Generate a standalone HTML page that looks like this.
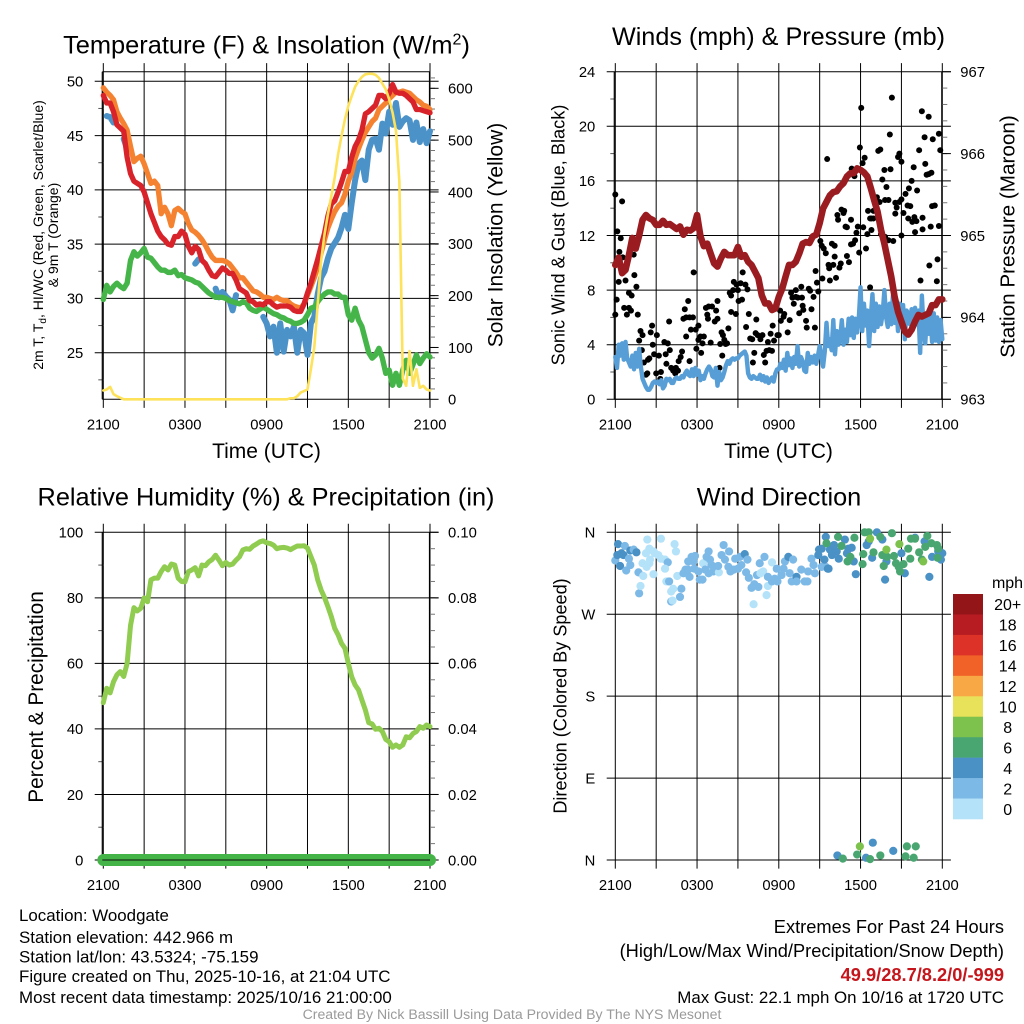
<!DOCTYPE html>
<html lang="en">
<head>
<meta charset="utf-8">
<title>Woodgate Mesonet Meteogram</title>
<style>
html,body{margin:0;padding:0;background:#fff;width:1024px;height:1024px;overflow:hidden}
svg{display:block}
text{font-family:"Liberation Sans",sans-serif;fill:#000}
.title{font-size:25.3px;text-anchor:middle}
.axt{font-size:21px;text-anchor:middle}
.foot{font-size:16.9px}
.foot-big{font-size:18.25px}
</style>
</head>
<body>
<svg id="chart" xmlns="http://www.w3.org/2000/svg" width="1024" height="1024" viewBox="0 0 1024 1024">
<rect x="0" y="0" width="1024" height="1024" fill="#fff"/>
<g id="layer"></g>

<text class="title" x="266.5" y="53.5" style="font-size:25.4px">Temperature (F) &amp; Insolation (W/m<tspan dy="-9" font-size="16">2</tspan><tspan dy="9">)</tspan></text>
<text class="title" x="778.5" y="45" style="font-size:25.2px">Winds (mph) &amp; Pressure (mb)</text>
<text class="title" x="266" y="505.5">Relative Humidity (%) &amp; Precipitation (in)</text>
<text class="title" x="779" y="505.5">Wind Direction</text>

<text class="axt" x="266.5" y="458">Time (UTC)</text>
<text class="axt" x="778.5" y="458">Time (UTC)</text>

<text font-size="14" text-anchor="middle" transform="translate(43,235) rotate(-90)">2m T, T<tspan dy="3" font-size="10">d</tspan><tspan dy="-3">, HI/WC (Red, Green, Scarlet/Blue)</tspan></text>
<text font-size="14" text-anchor="middle" transform="translate(58,235) rotate(-90)">&amp; 9m T (Orange)</text>
<text class="axt" transform="translate(502.5,235) rotate(-90)">Solar Insolation (Yellow)</text>
<text class="axt" transform="translate(564.5,235) rotate(-90)" style="font-size:18.2px">Sonic Wind &amp; Gust (Blue, Black)</text>
<text class="axt" transform="translate(1014.5,236.5) rotate(-90)" style="font-size:20.7px">Station Pressure (Maroon)</text>
<text class="axt" transform="translate(43,697) rotate(-90)" style="font-size:20.8px">Percent &amp; Precipitation</text>
<text class="axt" transform="translate(566.5,696) rotate(-90)" style="font-size:18.1px">Direction (Colored By Speed)</text>

<text class="foot" x="19" y="921">Location: Woodgate</text>
<text class="foot" x="19" y="943">Station elevation: 442.966 m</text>
<text class="foot" x="19" y="962.5">Station lat/lon: 43.5324; -75.159</text>
<text class="foot" x="19" y="982">Figure created on Thu, 2025-10-16, at 21:04 UTC</text>
<text class="foot" x="19" y="1003">Most recent data timestamp: 2025/10/16 21:00:00</text>

<text class="foot-big" x="1004" y="933" text-anchor="end">Extremes For Past 24 Hours</text>
<text class="foot-big" x="1004" y="957" text-anchor="end">(High/Low/Max Wind/Precipitation/Snow Depth)</text>
<text class="foot-big" x="1004" y="981" text-anchor="end" font-weight="bold" style="fill:#c4161c">49.9/28.7/8.2/0/-999</text>
<text class="foot" x="1004" y="1003" text-anchor="end">Max Gust: 22.1 mph On 10/16 at 1720 UTC</text>
<text x="512" y="1019" text-anchor="middle" font-size="14.1" style="fill:#9a9a9a">Created By Nick Bassill Using Data Provided By The NYS Mesonet</text>
</svg>

<script>
/* ---- shared axis data ---- */
const timeLabels = ["2100", "0300", "0900", "1500", "2100"];
const timeMajorHours = [0, 3, 6, 9, 12, 15, 18, 21, 24];

/* ---- temperature panel (deg F, evenly spaced over 24 h) ---- */
const tempTicks = [25, 30, 35, 40, 45, 50];
const tempMinorTicks = [22.5, 27.5, 32.5, 37.5, 42.5, 47.5];
const solarTicks = [0, 100, 200, 300, 400, 500, 600];
const temp2m = [48.7,48,48,47.2,46,45.7,45.4,43,41.5,40.8,40.6,40.4,39.8,38.8,37.8,37,36.2,35.7,35.4,35,34.9,35.7,35.7,36.2,35.9,34.8,34.2,34.8,34.5,33.5,33.2,32.6,32.1,32,32.4,32.8,32.6,32.3,32.3,31.7,30.9,30.7,30.5,29.8,29.7,29.4,29.5,29.4,29.7,29.7,29.4,29.2,29.3,29.3,29.3,29.2,28.9,28.8,28.8,29.5,30.5,31.4,32.5,33.6,34.8,36,37.6,38.7,39,39.8,40.7,41.7,41.7,43,44,44.6,45.5,47,47.2,47.5,47.8,48.7,48.7,48.4,48.9,49.7,49,48.9,48.9,48.7,48.4,48.1,47.4,47.4,47.3,47.2,47.1];
const temp9m = [49.4,49,48.7,48.3,47.2,46.6,46.1,45.5,44,42.6,42.9,43.1,42.4,41.5,40.6,40.8,40.4,37.8,38.4,37.8,36.7,38.1,38.3,38,37.8,36.9,36.3,36.1,35.8,35.4,34.9,34.3,33.8,33.5,33.5,33.5,33.4,33.2,32.8,32.4,31.9,31.9,31.5,31.1,30.7,30.6,30.4,30.1,30.1,30,29.9,30.1,29.9,29.8,29.8,29.5,29.3,29.2,29.1,29.5,30.3,31.1,31.9,32.9,34.2,35.4,36.5,37.3,38,38.5,38.8,39.6,40.8,41.6,42.9,43.8,44.6,45.3,45.8,46.3,46.6,47.4,47.7,48,48.4,48.7,49,49,49.1,49,48.9,48.6,48.3,48.1,47.8,47.7,47.4];
const dewPoint = [29.9,31.2,30.6,31.1,31.4,31.1,30.9,31.4,33.5,34.3,33.9,34.2,34.6,33.8,33.7,33.3,32.9,32.6,32.6,32.4,32.4,32.6,32.1,32.2,31.9,31.8,31.7,31.5,31.4,31.1,30.8,30.5,30.3,30.1,30.1,30.1,30,29.8,29.7,29.6,29.5,29.7,29.6,29.1,28.9,28.8,29,29.2,29,28.8,28.6,28.5,28.3,28.2,28,27.9,27.7,27.7,27.8,28,28.5,29.1,29.2,29.7,30.1,30.4,30.6,30.6,30.4,30.4,30.1,30.1,28.5,28,29.1,28,27.4,26.2,25,24.5,24.8,25.4,24.5,23.1,23.4,22,23.1,22,23.4,24.3,23.1,23.9,24.8,24,24.5,24.9,24.6];
const heatIndex = [null,46.8,46.7,46.2,null,null,44.7,43.8,null,null,null,null,null,null,null,null,null,null,null,null,null,null,null,null,null,null,null,33.2,33.6,null,32.6,null,null,30.9,30.1,30.6,30.2,29.9,28.9,30.3,null,null,null,null,null,null,null,28.3,27.7,26.5,27.4,25,27.7,25.1,27.1,26.5,27.4,25,27.1,26.8,24.8,27.7,28.3,30.4,31.9,32.5,33.7,34.6,35.1,35.6,36.5,37.7,36.4,38.8,40.9,42.4,42.7,40.9,43.7,44.6,44.7,43.7,46.1,45.2,47.2,46,48,45.8,46.3,46.6,46.4,44.6,46.2,44.4,45.6,44.3,45.4];
const solarRadiation = [17,19,24,10,6,3,0,0,0,0,0,0,0,0,0,0,0,0,0,0,0,0,0,0,0,0,0,0,0,0,0,0,0,0,0,0,0,0,0,0,0,0,0,0,0,0,0,0,0,0,0,0,0,0,0,2,2,6,13,16,19,58,100,183,267,318,357,392,428,473,508,540,566,585,603,614,622,627,628,628,626,620,609,598,579,553,518,420,40,26,93,26,58,22,26,19,17];

/* ---- winds and pressure panel ---- */
const windTicks = [0, 4, 8, 12, 16, 20, 24];
const windMinorTicks = [2, 6, 10, 14, 18, 22];
const pressureTicks = [963, 964, 965, 966, 967];
const sonicWind = [3.1,2.3,4,3.2,4.1,2.9,4.2,3,2.7,2.4,3.2,2.2,3.4,2.4,3.7,2.4,1.5,1.2,0.9,0.7,0.7,0.9,1.2,1.3,1.2,1.3,1.1,1.4,0.8,1,1.5,1.4,1.5,1.2,1.2,1.5,1.6,1.5,1.5,1.7,1.6,1.9,2.1,1.8,1.7,2.2,1.7,2.3,1.8,2.1,1.4,1.7,1.5,1.9,2.2,2.4,2.2,1.7,1.6,2.3,1,2,1.4,1.6,2,2.5,2.8,2.6,2.9,3,2.9,3,3,3.2,3.3,3.4,3.5,3.2,1.9,1.6,1.5,1.7,1.6,1.5,1.5,1.8,1.4,1.7,1.3,1.6,1.2,1.4,1.6,1.3,1.9,2.2,2.2,2.6,2.3,2.9,2.1,3.4,2.5,3,2.3,3.1,2.6,3.9,2.4,3.1,2.8,2.1,2,3.4,2.6,3.1,2.7,3.2,2.6,3.2,3.9,3.2,2.4,3.5,5.6,3.9,4.4,3.6,5.8,3.3,5,4,4.4,5.8,4,5.1,4.2,5.9,4.7,6,4.5,5.9,4.9,6,8.2,5,7,5.4,6.5,3.9,6,7.7,5,7,5.3,6.8,5.5,6.3,8,6,5.3,7,5.5,7.6,5.6,6.7,5,7,5.3,6.9,4.4,6.5,6.3,5.5,6.6,5.3,6.7,5.5,6.5,3.4,7.6,5.2,4.1,6.3,4.8,6.5,4.2,6.3,4.3,6,4.2,5.8,4.4];
const stationPressure = [964.64,964.73,964.54,964.58,964.76,964.97,964.84,965,965.19,965.25,965.21,965.19,965.13,965.13,965.18,965.13,965.14,965.11,965.08,965.11,965.01,965.07,965.06,965.09,965.25,964.99,964.87,964.9,964.78,964.66,964.62,964.72,964.8,964.76,964.76,964.76,964.86,964.74,964.76,964.68,964.64,964.56,964.48,964.27,964.17,964.17,964.09,964.11,964.25,964.35,964.5,964.64,964.64,964.68,964.78,964.9,964.92,964.91,964.99,965.01,965.15,965.33,965.41,965.49,965.53,965.54,965.6,965.64,965.72,965.76,965.76,965.82,965.8,965.77,965.72,965.58,965.43,965.29,965.07,964.9,964.7,964.5,964.25,964.07,963.95,963.83,963.79,963.85,963.95,964.03,964.01,964.03,964.05,964.15,964.15,964.22,964.22];
const gustHours = [0,0,.1,.15,.25,.3,.4,.55,.5,.75,1,1.2,.65,.85,1,1.15,1.4,1.55,1.65,1.1,1.35,1.75,1.85,2,1.95,2.1,2.4,2.35,2.25,2.5,2.6,2.7,2.75,2.85,3.05,3,3.2,3.35,3.3,3.6,3.7,3.75,3.85,3.95,4,4.1,4.25,4.45,4.6,4.4,4.65,4.8,4.9,5,5.1,5.2,5.2,5.35,5.45,5.45,5.55,5.7,5.75,5.9,5.95,6.1,6.1,6.25,6.3,6.4,6.5,6.65,6.75,6.85,6.8,7,7.1,7.3,7.4,7.5,7.5,7.65,7.7,7.8,7.9,8,7.85,8.1,8.2,8.3,8.4,8.5,8.65,8.7,8.9,9.2,9.05,9.3,9,9.35,9.55,9.7,8.5,8.85,9.8,9.6,9.9,10.05,10.1,10.2,10.35,10.3,10.45,10.65,10.8,10.9,11,11.1,11.3,11.4,11.2,11.5,11.65,11.55,11.9,11.8,12.1,12.15,12.4,12.35,12.65,12.8,12,12.9,13.1,13,13.25,13.25,13.4,13.5,13.65,13.7,13.75,13.8,14,14.05,14.2,14.3,14.4,14.55,14.65,14.8,14.7,14.9,15.2,15.75,16.2,15.65,15.7,16,16.1,16.55,16.45,17,17.15,15.45,15.3,15.15,15.05,15.9,16.1,17.3,17.45,17.6,17.9,18.4,16.9,17,17.3,16.35,16.3,16.6,16.8,16.75,17.7,17.8,18.2,18.5,18.8,18.8,18.7,18.95,18.55,18.95,19.5,19.8,20.4,20.05,21,22,22.55,23.15,23.75,18.7,19.6,19.9,19.75,20.2,19.3,19.45,20.15,20.3,18.05,17.95,18.3,18.15,15.55,17.35,17.55,21.75,21.55,21.3,21,20.85,20.55,20.65,20.05,19.8,19.4,19.2,19.05,20.55,21.15,21.45,21.65,21.5,21.8,22.1,21.95,22.55,22.15,21.9,22.75,22.85,23,23.2,23.25,23.45,22.3,20.75,20.85,21,22.5,23,22.7,23.3,23.75,23.85,22.4,23.05,23.6,23.65];
const gustSpeeds = [15,6.2,7.3,12.3,8.6,10.8,11.8,10.4,14.5,8.7,7.8,7.6,6.7,6.2,6.7,6.5,9.1,8.25,6.2,11,10.6,4.3,5,4.7,3.6,2.7,2.9,1.9,1.8,3,4.9,5.4,4,3.3,4.7,1.9,3.2,2,1.5,4.2,3.3,2.6,4.1,5.7,3.6,2.3,2.1,2.3,2.1,1.9,2.8,3.1,3.5,5.9,6.6,4.6,6,7.2,2.8,6,5.1,6,9.3,5.1,3.7,5.4,4.35,4.6,3.4,4.1,4.6,6.7,6.2,6.8,5.9,4.15,6.8,5.7,6.5,5.9,7.2,2.3,4.05,4.9,4.7,4.35,3.2,4.05,4.1,5.2,7.8,7.6,8,8.6,8.4,8.5,7.2,7.3,8,9.3,8.4,8.05,6.4,6.25,6.25,5.3,4.45,4.4,2.7,3.4,5.85,4.85,4.7,4.4,4.7,3.25,2.7,3.55,3.6,4.8,4.2,3.55,4.3,5.4,4.7,6.65,6.5,5.75,6.25,6.05,4.9,5.8,4.7,7.8,7,7.45,8,7.5,7.45,6.3,8.25,7.45,6.85,6.55,5.75,5.25,8.1,7.95,6.6,7.5,5.25,8.55,9.4,7.9,8.85,8.7,8.9,9.85,9.6,9.85,10.45,9.95,9.65,10.5,10.05,10.7,11.05,11.25,11.6,11.4,11.25,11.35,11.4,11.65,10.75,11.05,12.65,12.6,13.15,13.15,13.5,13.9,13.8,13.65,12.2,12.65,12.6,12.1,12.4,13.25,13.25,13.25,13.8,13.8,12.1,11.9,11.6,11.65,12,12.25,12.45,12.65,12.7,8.2,16.1,15.55,16.8,16.85,18.2,18.3,19.4,22.1,21.35,18.45,17.7,17.3,17.6,16.9,16.35,16,15.45,15.05,14.65,14.45,14.4,14.05,14.6,14.6,14.45,14.8,14.4,13.6,13.65,14.2,14.15,13.25,13,13.05,13.35,13.3,15.3,17,17.25,16.45,16.5,16.6,14.15,14.2,18.25,17.75,18,17.4,21.1,20.7,19.2,19.05,19.45,18.25,8.7,9.8,8.65,10.25];

/* ---- humidity panel ---- */
const humidityTicks = [0, 20, 40, 60, 80, 100];
const humidityMinorTicks = [10, 30, 50, 70, 90];
const precipLabels = ["0.00", "0.02", "0.04", "0.06", "0.08", "0.10"];
const precipLabelValues = [0, 0.02, 0.04, 0.06, 0.08, 0.1];
const relativeHumidity = [48,52.4,51,54.4,56.5,57.5,56,60,71.6,77,76,76.8,80,78.8,85.5,86,86,88,89.5,88.5,90.3,90,86,85,84.9,88,88.5,89.2,86.7,90,89.8,91,91.7,93,91.5,89.8,90.8,90,90.3,91.5,92.5,94.6,95,94.8,95.8,96.4,97.1,97.4,96.8,96.6,96.1,95,95.3,95.4,95.2,94.7,95.3,95.8,95.8,95.9,95.2,92.6,90,85.5,82.4,80.1,77.3,74.3,70.7,68.7,66.1,64.6,60,55.9,53.4,51.9,48.8,45.8,41.9,41.5,39.9,40.2,39.2,36.8,36.1,34.4,35.1,34.4,35.1,37.6,37.3,38.6,39.2,40.7,40.2,41.2,40.7];
const precipitation = [0,0,0,0,0,0,0,0,0,0,0,0,0,0,0,0,0,0,0,0,0,0,0,0,0];

/* ---- wind direction panel ---- */
const directionLabels = ["N", "E", "S", "W", "N"];
const directionTicks = [0, 90, 180, 270, 360];
const dirHours = [0,.2,.7,.15,.45,.6,.35,.8,1,1.1,1.35,1.55,1.1,1.7,1.75,1.85,2.05,2,2.25,2.35,2.5,2.55,2.3,2.8,2.9,2.8,2.5,3.15,3.35,3.35,3.65,3.85,3.65,3.75,3.95,4.35,4.45,4.55,4.25,4.1,4.1,4.2,4.85,4.75,5,5.2,5.45,5.15,5.35,5.35,5.6,5.85,5.75,5.8,6.2,6.4,6.1,6.45,6.6,6.85,6.7,6.95,6.85,7.05,7.3,7.2,7.6,7.55,7.8,7.95,8.05,8.35,8.3,8.45,8.8,8.7,9,9.15,9.25,9.5,9.7,9.6,9.8,10,10.15,10.2,10.4,10.5,10.6,10.85,10.65,10.95,11.1,11.2,11.2,11.5,11.5,11.7,11.9,11.85,12.2,12.35,12.45,12.7,12.8,12.95,13.05,13.3,13.3,13.65,13.9,14.1,14.15,14.4,14.55,14.65,14.9,15.15,15.45,15.65,15.45,14.95,15.15,15.35,15.6,15.75,16.05,16.25,15.9,16.4,16.85,17,17.35,17.1,17.5,17.65,18.6,18.45,19.2,19.6,18.85,19.8,19.9,21,21.25,22,22.7,23.05,23.25,23.9,24,23.7,15.5,16.35,17.55,16.6,17.25,17.05,18.2,18.15,18.3,18.6,19.45,20.3,18.95,19.6,19.95,20.45,19.7,20.6,20.8,21.15,20.9,21.7,22,21.5,21.65,22.3,22.5,22.9,22.75,23.2,23.6,23.7,23.65,18.7,19.9,20.85,22.6,16.3,16.7,17.75,17.95,18.4,18.7,18.9,19.45,20.4,21.3,21.4,21.9,22.05];
const dirDegrees = [329,347,345,335,337,335,323,318,331,340,341,338,324,316,293,301,312,326,337,352,342,330,322,339,337,314,326,335,353,331,330,327,320,306,306,347,339,312,298,295,284,285,298,289,315,316,311,319,319,328,333,334,328,320,308,308,317,326,319,339,333,330,315,324,322,317,316,323,335,346,330,339,322,317,331,319,320,333,324,336,330,316,310,299,281,303,313,300,326,317,315,333,291,311,301,327,306,309,306,320,313,320,328,333,315,306,330,311,306,319,306,306,317,331,324,315,335,322,322,320,355,341,342,330,320,341,346,339,335,331,352,337,343,342,328,314,350,346,360,352,332,308,328,337,315,354,350,311,333,330,337,339,348,355,354,345,333,328,336,325,360,360,355,359,338,335,333,334,323,326,322,325,317,353,353,342,331,338,330,356,344,348,346,342,332,353,341,347,328,5,1.5,6,15,2.5,1,19,5,10,4,15,2.5,15];
const dirSpeeds = [
3,5,3,5,5,5,5,3,3,5,
3,5,3,3,3,1,1,1,1,1,
1,1,1,1,1,1,1,1,1,1,
1,3,1,1,3,1,1,1,1,1,
3,1,3,3,
3,3,3,3,3,3,3,3,3,3,
3,3,3,1,3,3,3,3,3,3,
3,3,1,3,3,3,3,3,3,3,
3,3,3,3,3,5,3,3,3,3,
1,3,3,3,3,1,1,3,1,3,
1,1,3,3,3,3,3,3,3,5,
3,3,3,5,3,3,3,3,3,3,
3,3,5,3,3,5,
5,5,5,5,5,5,5,5,5,5,5,5,5,5,5,5,
5,5,5,5,5,5,5,5,5,5,5,5,5,5,5,5,
7,7,7,7,7,7,7,7,7,7,7,7,7,7,7,7,7,
7,7,7,7,7,7,7,7,7,7,7,7,7,7,7,7,
9,9,9,9,
5,7,7,9,5,7,5,7,5,7,7,7,7];
const speedBinLabels = ["0", "2", "4", "6", "8", "10", "12", "14", "16", "18", "20+"];
const speedBinColors = ["#b3e2f9", "#7db9e6", "#4a91c6", "#4aa671", "#7dc24c", "#e8e15a", "#f9a846", "#f16228", "#dd3227", "#b71c23", "#931518"];

/* ---- drawing helpers ---- */
const NS = "http://www.w3.org/2000/svg";
const layer = document.getElementById("layer");
function mk(tag, attrs, parent) {
  const el = document.createElementNS(NS, tag);
  for (const k in attrs) el.setAttribute(k, attrs[k]);
  (parent || layer).appendChild(el);
  return el;
}
function linear(d0, d1, r0, r1) {
  return v => r0 + (v - d0) * (r1 - r0) / (d1 - d0);
}
function hourOf(i, arr) { return i * 24 / (arr.length - 1); }

function drawLine(values, xs, ys, color, width, name, parent) {
  let d = "", pen = false;
  values.forEach((v, i) => {
    if (v === null) { pen = false; return; }
    const x = xs(hourOf(i, values)).toFixed(2), y = ys(v).toFixed(2);
    d += (pen ? "L" : "M") + x + " " + y;
    pen = true;
  });
  const el = mk("path", {d: d, fill: "none", stroke: color, "stroke-width": width, "stroke-linejoin": "round", "stroke-linecap": "round"}, parent);
  
  
  return el;
}

function drawVerticalAxis(p, xs) {
  const g = mk("g", {});
  
  
  timeMajorHours.forEach(h => {
    const ln = mk("line", {x1: xs(h), x2: xs(h), y1: p.top - 8.6, y2: p.bottom + 8.6, stroke: "#000", "stroke-width": 1}, g);
    
    
  });
  timeLabels.forEach((t, i) => {
    const tx = mk("text", {x: xs(i * 6), y: p.bottom + 30.2, "font-size": 14.8, "text-anchor": "middle"}, g);
    tx.textContent = t;
    
    
  });
}

function drawHorizontalGrid(p, ticks, labels, ysFn, name, gridRight) {
  const g = mk("g", {});
  
  
  ticks.forEach((v, i) => {
    const ln = mk("line", {x1: p.left - 8.6, x2: p.right + 8.6, y1: ysFn(v), y2: ysFn(v), stroke: "#000", "stroke-width": 1}, g);
    
    
    const tx = mk("text", {x: p.left - 20, y: ysFn(v) + 5.3, "font-size": 14.8, "text-anchor": "end"}, g);
    tx.textContent = labels[i];
    
    
  });
}

function drawLeftMinor(p, ticks, ysFn) {
  ticks.forEach(v => {
    const ln = mk("line", {x1: p.left - 5, x2: p.left, y1: ysFn(v), y2: ysFn(v), stroke: "#555", "stroke-width": 1});
    
    
  });
}

function drawRightAxis(p, ticks, labels, ysFn, minorFrom, minorTo, minorStep) {
  for (let k = 0; k <= Math.round((minorTo - minorFrom) / minorStep); k++) {
    const v = minorFrom + k * minorStep;
    const ln = mk("line", {x1: p.right, x2: p.right + 5, y1: ysFn(v), y2: ysFn(v), stroke: "#777", "stroke-width": 1});
    
    
  }
  ticks.forEach((v, i) => {
    const ln = mk("line", {x1: p.right, x2: p.right + 8.6, y1: ysFn(v), y2: ysFn(v), stroke: "#000", "stroke-width": 1});
    
    
    const tx = mk("text", {x: p.right + 18, y: ysFn(v) + 5.3, "font-size": 14.8}, layer);
    tx.textContent = labels[i];
    
    
  });
}

function drawFrame(p, closedTop) {
  const l = mk("line", {x1: p.left - 1, x2: p.left - 1, y1: p.top, y2: p.bottom, stroke: "#000", "stroke-width": 1.2});
  
  
  const r = mk("line", {x1: p.right - 0.6, x2: p.right - 0.6, y1: p.top, y2: p.bottom, stroke: "#000", "stroke-width": 1});
  
  
  const b = mk("line", {x1: p.left - 1, x2: p.right, y1: p.bottom, y2: p.bottom, stroke: "#000", "stroke-width": 1});
  
  
  if (closedTop) {
    const t = mk("line", {x1: p.left - 1, x2: p.right, y1: p.top, y2: p.top, stroke: "#000", "stroke-width": 1});
    
    
  }
}

/* ---- panel 1: temperature and insolation ---- */
{
  const p = {name: "temperature", left: 103.3, right: 430, top: 71.7, bottom: 399.3};
  const xs = linear(0, 24, p.left, p.right);
  const ys = linear(25, 50, 352.7, 81.3);
  const ysSolar = linear(0, 600, 399.3, 88.3);
  drawVerticalAxis(p, xs);
  drawHorizontalGrid(p, tempTicks, tempTicks.map(String), ys, "temperature-y-axis");
  drawLeftMinor(p, tempMinorTicks, ys);
  drawRightAxis(p, solarTicks, solarTicks.map(String), ysSolar, 20, 620, 20);
  drawFrame(p, true);
  drawLine(heatIndex, xs, ys, "#4b92c9", 6, "blue-heat-index-line");
  drawLine(dewPoint, xs, ys, "#46b549", 5.4, "green-dew-point-line");
  drawLine(temp9m, xs, ys, "#f58230", 5.3, "orange-9m-temperature-line");
  drawLine(temp2m, xs, ys, "#d8232a", 5.3, "red-2m-temperature-line");
  drawLine(solarRadiation, xs, ysSolar, "#fde25a", 2.6, "yellow-solar-insolation-line");
}

/* ---- panel 2: winds and pressure ---- */
{
  const p = {name: "winds", left: 615.3, right: 942.3, top: 71.7, bottom: 399.3};
  const xs = linear(0, 24, p.left, p.right);
  const ys = linear(0, 24, p.bottom, p.top);
  const ysP = linear(963, 967, p.bottom, p.top);
  drawVerticalAxis(p, xs);
  drawHorizontalGrid(p, windTicks, windTicks.map(String), ys, "wind-speed-y-axis");
  drawLeftMinor(p, windMinorTicks, ys);
  drawRightAxis(p, pressureTicks, pressureTicks.map(String), ysP, 963.2, 966.8, 0.2);
  drawFrame(p, false);
  gustHours.forEach((h, i) => {
    const c = mk("circle", {cx: xs(h), cy: ys(gustSpeeds[i]), r: 3, fill: "#000"});
    
    
  });
  drawLine(sonicWind, xs, ys, "#579ed6", 4.4, "blue-sonic-wind-line");
  drawLine(stationPressure, xs, ysP, "#9b1c20", 6.6, "maroon-pressure-line");
}

/* ---- panel 3: humidity and precipitation ---- */
{
  const p = {name: "humidity", left: 103.3, right: 430, top: 532.3, bottom: 860};
  const xs = linear(0, 24, p.left, p.right);
  const ys = linear(0, 100, p.bottom, p.top);
  const ysPrecip = linear(0, 0.1, p.bottom, p.top);
  drawVerticalAxis(p, xs);
  drawHorizontalGrid(p, humidityTicks, humidityTicks.map(String), ys, "humidity-y-axis");
  drawLeftMinor(p, humidityMinorTicks, ys);
  drawRightAxis(p, precipLabelValues, precipLabels, ysPrecip, 0.005, 0.095, 0.005);
  drawFrame(p, false);
  drawLine(relativeHumidity, xs, ys, "#8fcc50", 5, "green-relative-humidity-line");
  drawLine(precipitation, xs, ysPrecip, "#44b448", 12, "green-precipitation-line");
  const axisOver = mk("line", {x1: p.left - 1, x2: p.right, y1: p.bottom, y2: p.bottom, stroke: "#111", "stroke-width": 1});
  
  
}

/* ---- panel 4: wind direction ---- */
{
  const p = {name: "direction", left: 615.3, right: 942.3, top: 532.3, bottom: 860};
  const xs = linear(0, 24, p.left, p.right);
  const ys = linear(0, 360, p.bottom, p.top);
  drawVerticalAxis(p, xs);
  drawHorizontalGrid(p, directionTicks, directionLabels, ys, "direction-y-axis");
  dirHours.forEach((h, i) => {
    const bin = Math.min(speedBinColors.length - 1, Math.floor(dirSpeeds[i] / 2));
    const c = mk("circle", {cx: xs(h), cy: ys(dirDegrees[i]), r: 4.1, fill: speedBinColors[bin]});
    
    
  });
  const lg = mk("g", {});
  
  
  const unit = mk("text", {x: 1007.5, y: 588, "font-size": 16, "text-anchor": "middle"}, lg);
  unit.textContent = "mph";
  
  
  const n = speedBinLabels.length, boxH = 225 / n, topY = 594;
  for (let i = n - 1; i >= 0; i--) {
    const row = n - 1 - i;
    const r = mk("rect", {x: 953, y: topY + row * boxH, width: 30, height: boxH + 0.3, fill: speedBinColors[i]}, lg);
    
    
    const t = mk("text", {x: 1007.7, y: topY + row * boxH + boxH / 2 + 6, "font-size": 16, "text-anchor": "middle"}, lg);
    t.textContent = speedBinLabels[i];
    
    
  }
}
</script>
</body>
</html>
